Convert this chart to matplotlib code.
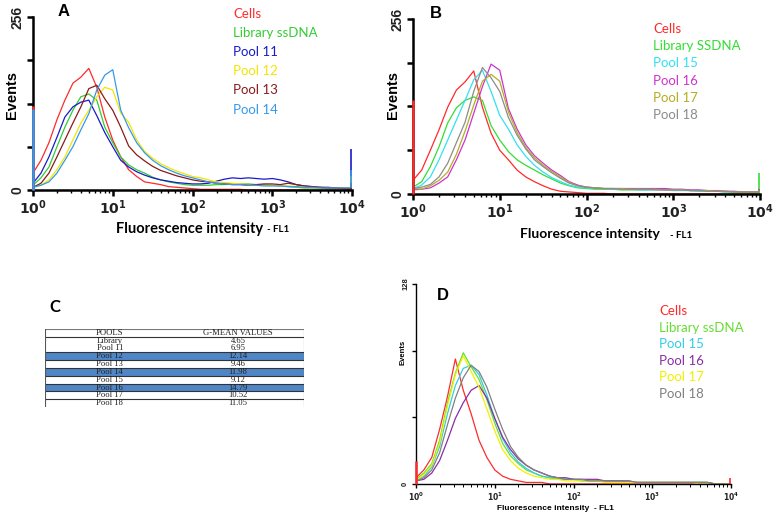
import numpy as np
import matplotlib
matplotlib.use("Agg")
import matplotlib.pyplot as plt

W, H = 782, 517

# fluorescence channels (log bins, 10^0 .. 10^4)
channels = np.logspace(0, 4, 41)

# ---- panel A ----
a_names = ["Cells", "Library ssDNA", "Pool 11", "Pool 12", "Pool 13", "Pool 14"]
a_colors = ["#ff2a2a", "#33cc33", "#1a1acc", "#f2e600", "#8b1a1a", "#3399ee"]
a_cells = [25, 44, 70, 104, 133, 158, 167, 180, 152, 108,
           74, 49, 30, 20, 12, 10, 8, 5, 4, 3,
           2, 1, 1, 1, 1, 1, 1, 0, 0, 0,
           0, 0, 0, 0, 0, 0, 0, 0, 0, 0, 1]
a_library = [7, 18, 34, 64, 93, 118, 138, 142, 133, 93,
             70, 49, 37, 30, 25, 19, 15, 12, 10, 8,
             7, 7, 7, 8, 8, 9, 9, 9, 8, 8,
             7, 6, 5, 4, 3, 3, 3, 2, 2, 2, 2]
a_pool11 = [10, 25, 49, 78, 108, 123, 130, 133, 110, 85,
            64, 44, 34, 27, 22, 18, 15, 13, 11, 10,
            9, 9, 10, 13, 16, 18, 17, 18, 17, 16,
            17, 15, 12, 8, 6, 5, 4, 4, 3, 3, 3]
a_pool12 = [4, 7, 15, 30, 49, 74, 99, 118, 138, 152,
            148, 114, 100, 74, 57, 47, 39, 33, 28, 24,
            20, 18, 15, 12, 11, 10, 9, 8, 8, 7,
            7, 6, 6, 5, 5, 4, 4, 3, 3, 3, 3]
a_pool13 = [4, 10, 25, 49, 74, 99, 123, 150, 155, 135,
            118, 93, 65, 52, 43, 35, 29, 25, 21, 18,
            15, 13, 12, 10, 9, 8, 8, 7, 8, 9,
            9, 8, 10, 8, 6, 5, 4, 3, 3, 2, 2]
a_pool14 = [4, 7, 12, 25, 44, 64, 89, 113, 148, 170,
            178, 118, 92, 70, 55, 44, 36, 30, 25, 21,
            18, 15, 12, 10, 9, 8, 8, 7, 7, 6,
            6, 6, 5, 5, 4, 4, 3, 3, 3, 3, 3]
# counts piled up in the first / last channel
a_low_bin = [125, 0, 0, 0, 0, 120]
a_high_bin = [0, 10, 60, 20, 10, 30]

# ---- panel B ----
b_names = ["Cells", "Library SSDNA", "Pool 15", "Pool 16", "Pool 17", "Pool 18"]
b_colors = ["#ff2a2a", "#33dd33", "#33e0f0", "#cc33cc", "#b5ad22", "#8c8c8c"]
b_cells = [20, 35, 64, 94, 127, 152, 164, 180, 127, 89,
           64, 50, 35, 25, 18, 12, 7, 4, 3, 2,
           1, 1, 1, 0, 0, 0, 0, 0, 0, 0,
           0, 0, 0, 0, 0, 0, 0, 0, 0, 0, 0]
b_library = [10, 18, 40, 69, 104, 126, 137, 142, 137, 100,
             79, 62, 50, 42, 35, 28, 22, 16, 12, 9,
             8, 7, 7, 7, 6, 6, 6, 6, 7, 7,
             6, 6, 5, 5, 4, 4, 3, 3, 2, 2, 2]
b_pool15 = [8, 13, 25, 50, 79, 108, 137, 167, 181, 150,
            115, 95, 72, 55, 42, 32, 24, 18, 13, 10,
            9, 8, 8, 7, 7, 7, 6, 6, 6, 6,
            5, 5, 5, 4, 4, 4, 3, 3, 3, 3, 3]
b_pool16 = [6, 7, 9, 16, 25, 50, 79, 118, 157, 190,
            181, 125, 95, 72, 56, 45, 35, 27, 18, 13,
            10, 9, 8, 8, 8, 8, 8, 8, 8, 8,
            7, 7, 6, 6, 5, 5, 4, 4, 3, 3, 3]
b_pool17 = [8, 7, 12, 20, 32, 58, 92, 130, 165, 175,
            165, 120, 90, 68, 53, 42, 33, 25, 17, 12,
            10, 9, 8, 8, 8, 7, 7, 7, 7, 6,
            6, 6, 5, 5, 5, 4, 4, 3, 3, 3, 3]
b_pool18 = [8, 10, 14, 25, 45, 75, 105, 150, 185, 170,
            150, 112, 86, 66, 50, 40, 31, 23, 16, 12,
            10, 9, 8, 8, 7, 7, 7, 7, 6, 6,
            6, 6, 5, 5, 4, 4, 4, 3, 3, 3, 3]
b_low_bin = [137, 0, 0, 0, 0, 0]
b_high_bin = [0, 31, 8, 8, 6, 6]

# ---- panel C ----
c_pools = ["Library", "Pool 11", "Pool 12", "Pool 13", "Pool 14",
           "Pool 15", "Pool 16", "Pool 17", "Pool 18"]
c_gmean = ["4.65", "6.95", "12.14", "9.46", "11.98", "9.12", "14.79", "10.52", "11.05"]
c_highlight = ["Pool 12", "Pool 14", "Pool 16"]

# ---- panel D ----
d_names = ["Cells", "Library ssDNA", "Pool 15", "Pool 16", "Pool 17", "Pool 18"]
d_colors = ["#ff2a2a", "#66dd33", "#33cce6", "#8a2ea6", "#f0f000", "#808080"]
d_cells = [4, 9, 17, 35, 56, 80, 60, 45, 28, 17,
           9, 5, 3, 2, 1, 1, 1, 0, 0, 0,
           0, 0, 0, 0, 0, 0, 0, 0, 0, 0,
           0, 0, 0, 0, 0, 0, 0, 0, 0, 0, 0]
d_library = [3, 7, 13, 28, 52, 71, 84, 75, 67, 54,
             39, 26, 18, 13, 9, 7, 5, 4, 3, 3,
             3, 2, 2, 2, 2, 2, 2, 1, 1, 1,
             1, 1, 1, 1, 1, 1, 1, 1, 0, 0, 0]
d_pool15 = [2, 5, 11, 24, 45, 63, 74, 76, 70, 57,
            42, 29, 20, 14, 10, 7, 5, 4, 3, 3,
            3, 2, 2, 2, 2, 2, 2, 1, 1, 1,
            1, 1, 1, 1, 1, 1, 1, 1, 0, 0, 0]
d_pool16 = [2, 3, 7, 15, 28, 42, 52, 60, 63, 55,
            42, 30, 22, 16, 12, 9, 7, 5, 4, 4,
            3, 3, 3, 3, 2, 2, 2, 2, 1, 1,
            1, 1, 1, 1, 1, 1, 1, 1, 0, 0, 0]
d_pool17 = [2, 6, 12, 26, 50, 70, 82, 72, 62, 48,
            34, 22, 15, 10, 7, 5, 4, 3, 3, 2,
            2, 2, 2, 2, 1, 1, 1, 1, 1, 1,
            1, 1, 1, 1, 1, 1, 0, 0, 0, 0, 0]
d_pool18 = [2, 4, 9, 20, 38, 55, 68, 76, 72, 62,
            48, 35, 24, 17, 12, 9, 7, 5, 4, 3,
            3, 3, 2, 2, 2, 2, 2, 2, 1, 1,
            1, 1, 1, 1, 1, 1, 1, 1, 0, 0, 0]
d_low_bin = [15, 0, 0, 0, 0, 0]
d_high_bin = [4, 0, 0, 0, 0, 0]

plt.rcParams["mathtext.default"] = "regular"


def rect(x0, y0, x1, y1):
    # pixel box (top-left origin) -> figure fraction rect
    return [x0 / W, 1 - y1 / H, (x1 - x0) / W, (y1 - y0) / H]


def ftext(x, y, s, **kw):
    fig.text(x / W, 1 - y / H, s, **kw)


def hist_panel(box, series, colors, low, high, ymax, yticks, ylabels, big=True):
    ax = fig.add_axes(rect(*box))
    for vals, c, lo, hi in zip(series, colors, low, high):
        ax.plot(channels, vals, color=c, lw=0.9)
        # edge channels drawn on top of the spines like in the cytometer output
        if lo > vals[0]:
            ax.vlines(channels[0], 0, lo, color=c, lw=1.8, zorder=4, clip_on=False)
        if hi > vals[-1]:
            ax.vlines(channels[-1] * 0.975, vals[-1], hi, color=c, lw=1.2, zorder=4)
    ax.set_xscale("log")
    ax.set_xlim(1, 1e4)
    ax.set_ylim(0, ymax)
    ax.set_yticks(yticks)
    fs = 10 if big else 5.5
    ax.set_yticklabels(ylabels, rotation=90, va="center", fontsize=fs - 1,
                       family="Liberation Sans", fontweight="bold")
    for s in ["top", "right"]:
        ax.spines[s].set_visible(False)
    lw = 1.8 if big else 1.0
    for s in ["left", "bottom"]:
        ax.spines[s].set_linewidth(lw)
    ax.tick_params(axis="both", which="major", direction="out",
                   length=4 if big else 3, width=lw, labelsize=fs, pad=2,
                   labelcolor="#222222")
    ax.tick_params(axis="x", which="minor", direction="out",
                   length=2, width=1.0 if big else 0.7)
    for lab in ax.get_xticklabels():
        lab.set_fontweight("bold")
    return ax


fig = plt.figure(figsize=(W / 100, H / 100), dpi=100)

# panel A
hist_panel((33, 17, 352, 190),
           [a_cells, a_library, a_pool11, a_pool12, a_pool13, a_pool14],
           a_colors, a_low_bin, a_high_bin,
           256, [0, 64, 128, 192, 256], ["0", "", "", "", "256"])
ftext(58, 12, "A", fontsize=12, fontweight="bold", family="Liberation Sans", va="center")
for i, (n, c) in enumerate(zip(a_names, a_colors)):
    ftext(233, 14 + 19.1 * i, n, color=c, fontsize=9.5, family="Lato", va="center")
ftext(12, 95, "Events", rotation=90, fontsize=10.5, fontweight="bold",
      family="Liberation Sans", va="center", ha="center")
ftext(116, 229, "Fluorescence intensity", fontsize=10.5, fontweight="bold",
      family="Lato", va="center")
ftext(267, 230, "- FL1", fontsize=7, fontweight="bold", family="Lato", va="center")

# panel B
hist_panel((413, 19, 760, 194),
           [b_cells, b_library, b_pool15, b_pool16, b_pool17, b_pool18],
           b_colors, b_low_bin, b_high_bin,
           256, [0, 64, 128, 192, 256], ["0", "", "", "", "256"])
ftext(430, 13, "B", fontsize=12, fontweight="bold", family="Liberation Sans", va="center")
for i, (n, c) in enumerate(zip(b_names, b_colors)):
    ftext(653, 29 + 17.2 * i, n, color=c, fontsize=9.5, family="Lato", va="center")
ftext(393, 95, "Events", rotation=90, fontsize=10.5, fontweight="bold",
      family="Liberation Sans", va="center", ha="center")
ftext(520, 234, "Fluorescence intensity", fontsize=10, fontweight="bold",
      family="Lato", va="center")
ftext(670, 235, "- FL1", fontsize=7, fontweight="bold", family="Lato", va="center")

# panel D
hist_panel((416, 284, 731, 484),
           [d_cells, d_library, d_pool15, d_pool16, d_pool17, d_pool18],
           d_colors, d_low_bin, d_high_bin,
           128, [0, 128 / 3, 256 / 3, 128], ["0", "", "", "128"], big=False)
ftext(437, 295, "D", fontsize=12, fontweight="bold", family="Liberation Sans", va="center")
for i, (n, c) in enumerate(zip(d_names, d_colors)):
    ftext(659, 311 + 16.6 * i, n, color=c, fontsize=9.5, family="Lato", va="center")
ftext(403, 352, "Events", rotation=90, fontsize=5.5, fontweight="bold",
      family="Liberation Sans", va="center", ha="center")
ftext(497, 508, "Fluorescence intensity  - FL1", fontsize=6, fontweight="bold",
      family="Liberation Sans", va="center")

# panel C: table
ftext(49, 307, "C", fontsize=12, fontweight="bold", family="Lato", va="center")
tx = fig.add_axes(rect(45, 329, 304, 407))
nrows = len(c_pools) + 1
tx.set_xlim(0, 1)
tx.set_ylim(nrows, 0)
tx.axis("off")
tfs = 6.2
for i, p in enumerate(c_pools):
    r = i + 1
    if p in c_highlight:
        tx.axhspan(r, r + 1, color="#4f86c8", lw=0)
        tx.axhline(r, color="#333333", lw=0.8)
        tx.axhline(r + 1, color="#333333", lw=0.8)
    tx.text(0.25, r + 0.5, p, ha="center", va="center", fontsize=tfs,
            family="Liberation Serif", color="#222222")
    tx.text(0.745, r + 0.5, c_gmean[i], ha="center", va="center", fontsize=tfs,
            family="Liberation Serif", color="#222222")
tx.text(0.25, 0.5, "POOLS", ha="center", va="center", fontsize=tfs,
        family="Liberation Serif", color="#222222")
tx.text(0.745, 0.5, "G-MEAN VALUES", ha="center", va="center", fontsize=tfs,
        family="Liberation Serif", color="#222222")
tx.axhline(0, color="#777777", lw=0.8)
tx.axhline(1, color="#333333", lw=0.8)
tx.axhline(nrows - 1, color="#333333", lw=0.8)
tx.axvline(0, color="#555555", lw=0.8)
tx.axvline(1, color="#555555", lw=0.8)

fig.savefig("out.png", dpi=100)
plt.close(fig)
